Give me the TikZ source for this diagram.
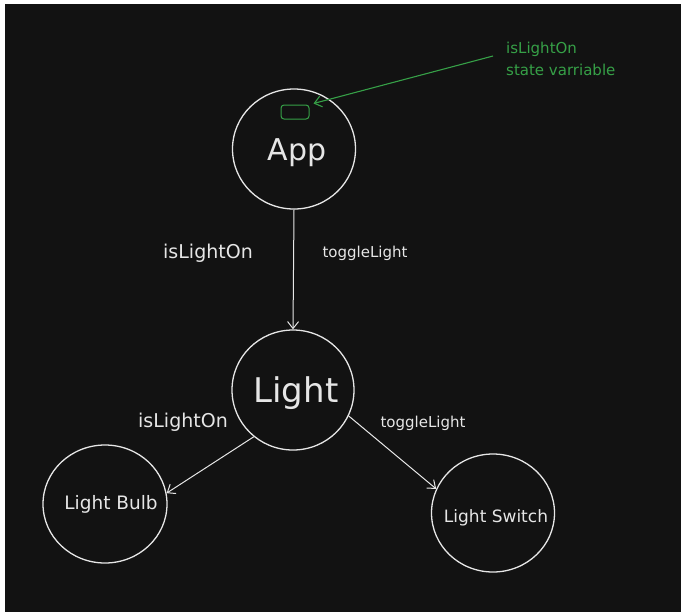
\documentclass[tikz,border=0pt]{standalone}
\usepackage{fontspec}
\setmainfont{DejaVu Sans}
\usetikzlibrary{arrows.meta,shapes.geometric}
\definecolor{bg}{HTML}{121212}
\definecolor{ink}{HTML}{E6E6E6}
\definecolor{grn}{HTML}{36A047}
\begin{document}
\begin{tikzpicture}[x=1pt,y=-1pt,
  bubble/.style={ellipse, draw=ink, line width=1.3pt, inner sep=0pt},
  conn/.style={draw=ink, line width=1pt, -{Straight Barb[length=7pt,width=11pt]}},
  lbl/.style={text=ink, inner sep=0pt},
  gconn/.style={draw=grn, line width=1.1pt, -{Straight Barb[length=7pt,width=11pt]}}]
\fill[white] (0,0) rectangle (682,614);
\fill[bg] (5,4) rectangle (681,612);
\useasboundingbox (0,0) rectangle (682,614);

\node[bubble, minimum width=123pt, minimum height=120pt,
  label={[lbl, font=\fontsize{30}{34}\selectfont, xshift=3pt, yshift=-4pt]center:App}] (app) at (294,149) {};
\node[bubble, minimum width=122pt, minimum height=120pt,
  label={[lbl, font=\fontsize{34}{38}\selectfont, xshift=3pt, yshift=-3pt]center:Light}] (light) at (293,390) {};
\node[bubble, minimum width=124pt, minimum height=118pt,
  label={[lbl, font=\fontsize{18.5}{22}\selectfont, xshift=6pt]center:Light Bulb}] (bulb) at (105,504) {};
\node[bubble, minimum width=123pt, minimum height=118pt,
  label={[lbl, font=\fontsize{17}{20}\selectfont, xshift=3pt, yshift=-5pt]center:Light Switch}] (switch) at (493,513) {};

\node[draw=grn, line width=1pt, rounded corners=3pt, minimum width=28pt, minimum height=14pt, inner sep=0pt] (state) at (295,112) {};
\node[anchor=west, text=grn, align=left, inner sep=0pt, font=\fontsize{15}{22}\selectfont] (note) at (506,59) {isLightOn\\state varriable};
\coordinate (gstart) at (493,56);

\node[lbl, font=\fontsize{19}{22}\selectfont] (l1) at (208,253) {isLightOn};
\node[lbl, font=\fontsize{15}{18}\selectfont] (t1) at (365,253) {toggleLight};
\node[lbl, font=\fontsize{19}{22}\selectfont] (l2) at (183,422) {isLightOn};
\node[lbl, font=\fontsize{15}{18}\selectfont] (t2) at (423,423) {toggleLight};

\draw[conn] (app.south) -- (light.north);
\draw[conn] (light.230) -- (bulb.10);
\draw[conn] (light.-25) -- (switch.157);
\draw[gconn] (gstart) -- ([xshift=4pt,yshift=1pt]state.north east);
\end{tikzpicture}
\end{document}
